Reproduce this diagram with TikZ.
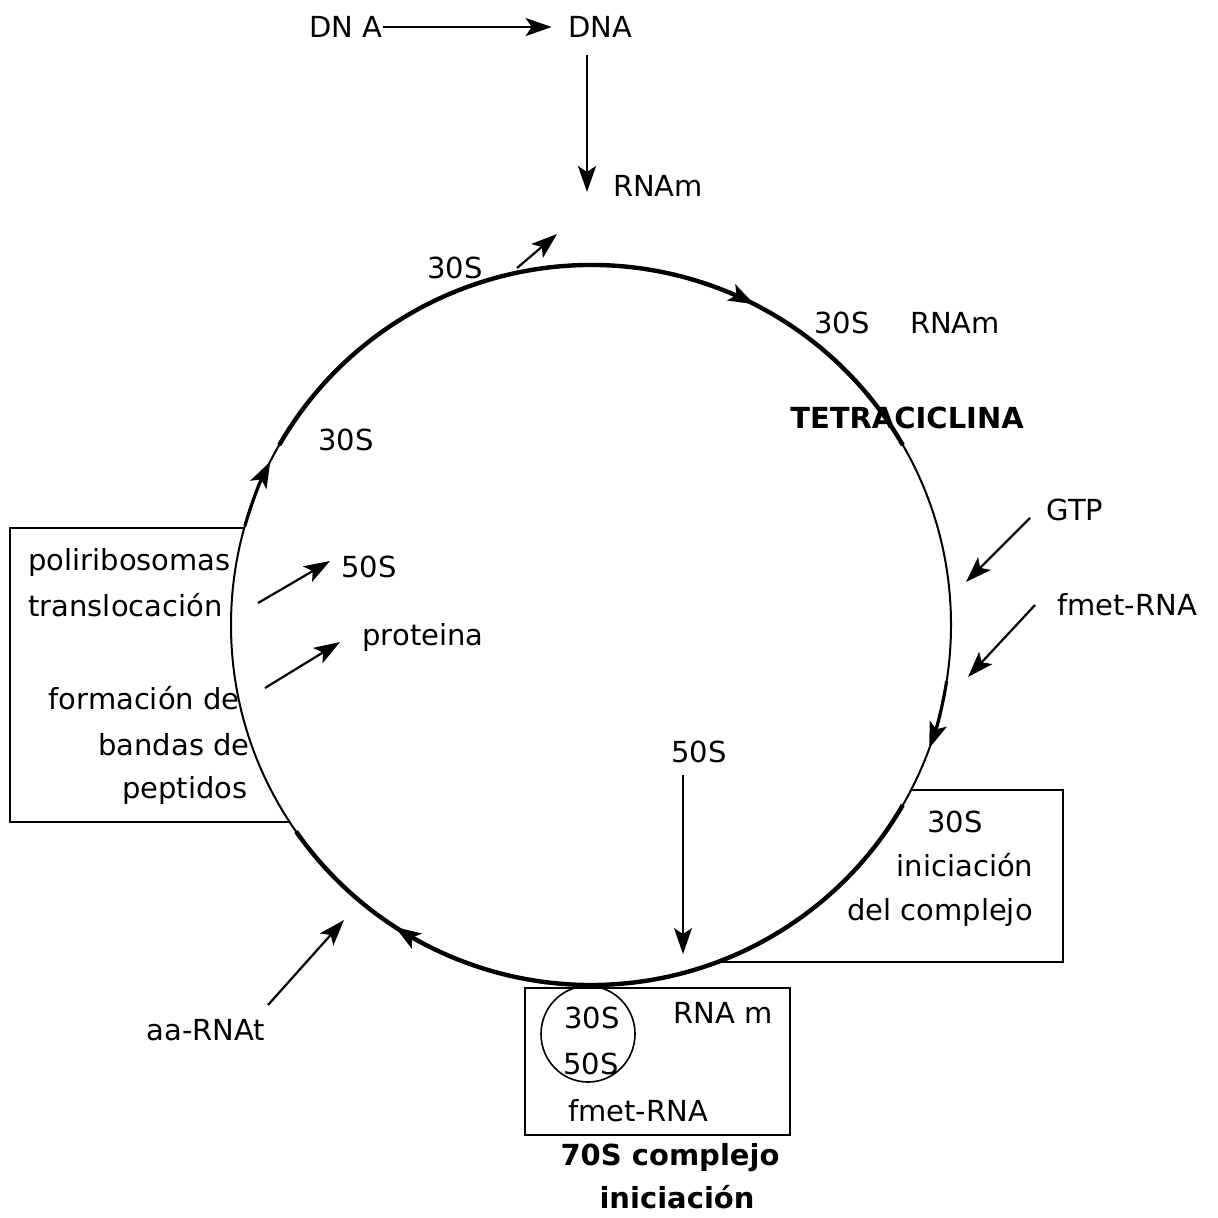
\documentclass[tikz,border=0pt]{standalone}
\usepackage{fontspec}
\setmainfont{DejaVu Sans}
\usetikzlibrary{arrows.meta}
\begin{document}
\begin{tikzpicture}[x=0.5pt,y=-0.5pt,
  lbl/.style={font=\fontsize{14.5}{17}\selectfont, inner sep=0pt},
  blbl/.style={font=\fontsize{14.5}{17}\selectfont\bfseries, inner sep=0pt},
  tip/.style={-{Stealth[length=13pt,width=9pt,inset=3pt]}},
  arr/.style={tip, line width=1.1pt},
  cyc/.style={line width=1pt},
  cycthick/.style={line width=2.2pt},
  cycarr/.style={tip, line width=1.6pt},
  box/.style={draw, line width=0.9pt}
]
\useasboundingbox (0,0) rectangle (1218,1217);
% boxes (partly hidden by the cycle)
\draw[box] (10,528) rectangle (420,822);
\draw[box] (700,790) rectangle (1063,962);
\draw[box] (525,988) rectangle (790,1135);
% cycle
\coordinate (c) at (591,625);
\fill[white] (c) circle[radius=360];
\draw[cyc] (c) circle[radius=360];
\draw[cycthick] (c) ++(-150:360) arc[start angle=-150, end angle=-30, radius=360];
\draw[cycthick] (c) ++(30:360) arc[start angle=30, end angle=145, radius=360];
\draw[cycarr] (c) ++(-74:360) arc[start angle=-74, end angle=-63, radius=360];
\draw[cycarr] (c) ++(9:360) arc[start angle=9, end angle=20, radius=360];
\draw[cycarr] (c) ++(112:360) arc[start angle=112, end angle=123, radius=360];
\draw[cycarr] (c) ++(196:360) arc[start angle=196, end angle=207, radius=360];
% top
\node[lbl] (dna1) at (346,27) {DN A};
\node[lbl] (dna2) at (600,27) {DNA};
\node[lbl] (rnam) at (658,186) {RNAm};
\draw[arr] (dna1.east) -- ([xshift=-8]dna2.west);
\coordinate (p1) at (587,55);
\coordinate (p2) at (587,192);
\draw[arr] (p1) -- (p2);
% labels round the cycle
\node[lbl] (s30a) at (455,268) {30S};
\coordinate (q1) at (517,268);
\coordinate (q2) at (557,234);
\draw[arr] (q1) -- (q2);
\node[lbl] (s30b) at (842,323) {30S};
\node[lbl] (rnam2) at (955,323) {RNAm};
\node[blbl] (tet) at (907,418) {TETRACICLINA};
\node[lbl] (s30c) at (346,440) {30S};
\node[lbl] (gtp) at (1075,510) {GTP};
\coordinate (g2) at (966,582);
\draw[arr] (1030,518) coordinate (g1) -- (g2);
\node[lbl] (fmet) at (1127,605) {fmet-RNA};
\coordinate (f2) at (968,677);
\draw[arr] (1035,605) coordinate (f1) -- (f2);
% left box
\node[lbl, anchor=west] (poli) at (28,562) {poliribosomas};
\node[lbl, anchor=west] (trans) at (28,605) {translocación};
\node[lbl, anchor=east] (form) at (240,698) {formación de};
\node[lbl, anchor=east] (band) at (250,745) {bandas de};
\node[lbl, anchor=east] (pept) at (248,790) {peptidos};
\node[lbl] (s50a) at (369,567) {50S};
\node[lbl] (prot) at (423,637) {proteina};
\draw[arr] (258,603) coordinate (l1) -- (330,561) coordinate (l2);
\draw[arr] (265,688) coordinate (m1) -- (340,642) coordinate (m2);
% middle 50S
\node[lbl] (s50b) at (699,752) {50S};
\draw[arr] (683,775) coordinate (k1) -- (683,954) coordinate (k2);
% right box
\node[lbl] (s30d) at (955,822) {30S};
\node[lbl] (inic) at (965,865) {iniciación};
\node[lbl] (delc) at (940,912) {del complejo};
% bottom box
\draw[line width=0.8pt] (588,1034) circle[x radius=47, y radius=48];
\node[lbl] (s30e) at (592,1018) {30S};
\node[lbl] (s50e) at (591,1064) {50S};
\node[lbl] (rnam3) at (723,1013) {RNA m};
\node[lbl] (fmet2) at (638,1111) {fmet-RNA};
\node[blbl] (c70) at (670,1158) {70S complejo};
\node[blbl] (inic2) at (677,1197) {iniciación};
% aa-RNAt
\node[lbl] (aa) at (206,1030) {aa-RNAt};
\draw[arr] (268,1005) coordinate (t1) -- (344,920) coordinate (t2);
\end{tikzpicture}
\end{document}
